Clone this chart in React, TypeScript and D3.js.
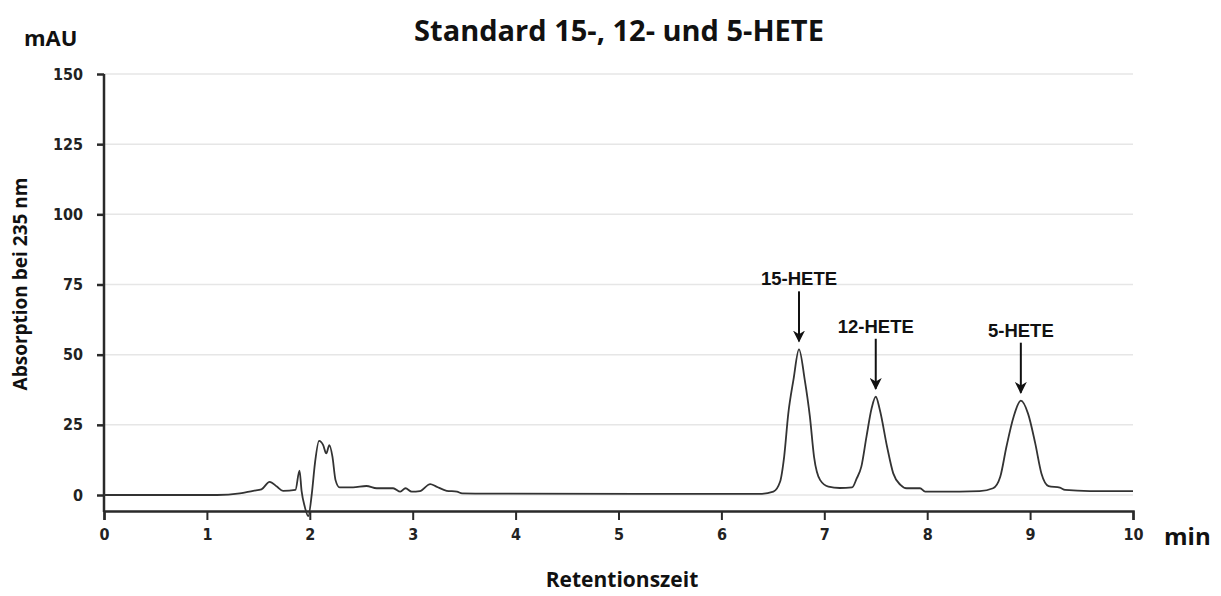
import React, { useEffect, useRef } from "react";
import * as d3 from "d3";

// retention time (min) and absorbance (mAU)
const times = [
  0, 1.1, 1.32, 1.45, 1.53, 1.61, 1.68, 1.74, 1.86, 1.9, 1.92, 1.95, 1.985,
  2.02, 2.05, 2.09, 2.13, 2.16, 2.19, 2.22, 2.25, 2.29, 2.42, 2.55, 2.65, 2.81,
  2.88, 2.93, 2.99, 3.07, 3.17, 3.23, 3.33, 3.43, 3.48, 3.75, 6.375, 6.505,
  6.57, 6.61, 6.65, 6.7, 6.754, 6.81, 6.86, 6.9, 6.96, 7.04, 7.15, 7.27, 7.315,
  7.36, 7.41, 7.46, 7.5, 7.54, 7.61, 7.67, 7.74, 7.8, 7.93, 7.98, 8.12, 8.51,
  8.64, 8.71, 8.77, 8.84, 8.91, 8.98, 9.05, 9.11, 9.18, 9.29, 9.34, 9.58, 10,
];
const absorbance = [
  0, 0, 0.6, 1.5, 2, 4.7, 3, 1.5, 1.8, 8.7, 1.5, -4, -7.5, 0.6, 11.3, 19.3,
  17.8, 14.8, 17.8, 13.7, 5.3, 2.7, 2.7, 3.2, 2.4, 2.4, 1.2, 2.4, 1.2, 1.4, 3.9,
  3, 1.5, 1.2, 0.6, 0.5, 0.4, 1.2, 4.7, 13.7, 29, 41, 51.9, 41, 27.9, 13.7, 5.3,
  3, 2.5, 2.7, 5.9, 10.1, 20.8, 30.9, 35, 30.3, 17.2, 7.7, 3.6, 2.4, 2.4, 1.2,
  1.2, 1.4, 2.4, 6.5, 17.2, 27.9, 33.6, 29, 18.4, 7.7, 3.2, 2.6, 1.8, 1.4, 1.4,
];

const peakLabels = ["15-HETE", "12-HETE", "5-HETE"];
const peakTimes = [6.754, 7.5, 8.91];
const peakValues = [51.9, 35, 33.6];

const yTicks = [0, 25, 50, 75, 100, 125, 150];
const xTicks = [0, 1, 2, 3, 4, 5, 6, 7, 8, 9, 10];

export default function App() {
  const ref = useRef<SVGSVGElement>(null);

  useEffect(() => {
    document.body.style.margin = "0";
    drawChart();
  }, []);

  function drawChart() {
    var width = 1221,
      height = 596;
    var margin = { top: 74, right: 88, bottom: 85, left: 104 };

    var svg = d3.select(ref.current);
    svg.selectAll("*").remove();

    var x = d3
      .scaleLinear()
      .domain([0, 10])
      .range([margin.left, width - margin.right]);
    var y = d3
      .scaleLinear()
      .domain([-5.7, 150])
      .range([height - margin.bottom, margin.top]);

    var font = "'Open Sans', sans-serif";
    var tickFont = "'DejaVu Sans Condensed', 'DejaVu Sans', sans-serif";

    // grid lines
    svg
      .append("g")
      .selectAll("line")
      .data(yTicks)
      .enter()
      .append("line")
      .attr("x1", x(0))
      .attr("x2", x(10))
      .attr("y1", (d) => y(d))
      .attr("y2", (d) => y(d))
      .style("stroke", "#e6e6e6")
      .style("stroke-width", 1.5);

    // y axis
    var yAxis = svg
      .append("g")
      .attr("transform", "translate(" + x(0) + ",0)")
      .call(d3.axisLeft(y).tickValues(yTicks).tickSize(7).tickPadding(14));
    yAxis.select(".domain").remove();
    yAxis
      .append("line")
      .attr("x1", 0)
      .attr("x2", 0)
      .attr("y1", y(150))
      .attr("y2", y(-5.7) + 1)
      .style("stroke", "#2a2a2a")
      .style("stroke-width", 2.5);
    yAxis.selectAll(".tick line").style("stroke", "#2a2a2a").style("stroke-width", 2.5);
    yAxis
      .selectAll(".tick text")
      .style("font-family", tickFont)
      .style("font-weight", "bold")
      .style("font-size", "16px")
      .style("fill", "#222");

    // x axis
    var xAxis = svg
      .append("g")
      .attr("transform", "translate(0," + y(-5.7) + ")")
      .call(d3.axisBottom(x).tickValues(xTicks).tickSize(9).tickPadding(9));
    xAxis.select(".domain").style("stroke", "#2a2a2a").style("stroke-width", 2.5);
    xAxis.selectAll(".tick line").style("stroke", "#2a2a2a").style("stroke-width", 2);
    xAxis
      .selectAll(".tick text")
      .style("font-family", tickFont)
      .style("font-weight", "bold")
      .style("font-size", "16px")
      .style("fill", "#222");

    // chromatogram trace
    var pts = times.map((t, i) => [t, absorbance[i]] as [number, number]);
    var line = d3
      .line<[number, number]>()
      .x((d) => x(d[0]))
      .y((d) => y(d[1]))
      .curve(d3.curveMonotoneX);
    svg
      .append("path")
      .datum(pts)
      .attr("d", line)
      .style("fill", "none")
      .style("stroke", "#333")
      .style("stroke-width", 1.8);

    // peak annotations
    var defs = svg.append("defs");
    defs
      .append("marker")
      .attr("id", "arrow")
      .attr("viewBox", "0 0 10 10")
      .attr("refX", 9)
      .attr("refY", 5)
      .attr("markerWidth", 6)
      .attr("markerHeight", 6)
      .attr("orient", "auto")
      .append("path")
      .attr("d", "M0,0 L10,5 L0,10 L3,5 Z")
      .style("fill", "#111");

    var ann = svg
      .selectAll(".ann")
      .data(peakLabels)
      .enter()
      .append("g")
      .attr("class", "ann");
    ann
      .append("line")
      .attr("x1", (d, i) => x(peakTimes[i]))
      .attr("x2", (d, i) => x(peakTimes[i]))
      .attr("y1", (d, i) => y(peakValues[i]) - 58)
      .attr("y2", (d, i) => y(peakValues[i]) - 8)
      .style("stroke", "#111")
      .style("stroke-width", 2)
      .attr("marker-end", "url(#arrow)");
    ann
      .append("text")
      .text((d) => d)
      .attr("x", (d, i) => x(peakTimes[i]))
      .attr("y", (d, i) => y(peakValues[i]) - 64)
      .attr("text-anchor", "middle")
      .style("font-family", "'Liberation Sans', Arial, sans-serif")
      .style("font-weight", "bold")
      .style("font-size", "18.5px")
      .style("fill", "#111");

    // titles
    svg
      .append("text")
      .text("Standard 15-, 12- und 5-HETE")
      .attr("x", 619)
      .attr("y", 41)
      .attr("text-anchor", "middle")
      .style("font-family", font)
      .style("font-weight", "bold")
      .style("font-size", "29px")
      .style("fill", "#111");
    svg
      .append("text")
      .text("mAU")
      .attr("x", 24)
      .attr("y", 46)
      .style("font-family", font)
      .style("font-weight", "bold")
      .style("font-size", "22px")
      .style("fill", "#111");
    svg
      .append("text")
      .text("min")
      .attr("x", 1164)
      .attr("y", 545)
      .style("font-family", font)
      .style("font-weight", "bold")
      .style("font-size", "24px")
      .style("fill", "#111");
    svg
      .append("text")
      .text("Retentionszeit")
      .attr("x", 622)
      .attr("y", 587)
      .attr("text-anchor", "middle")
      .style("font-family", font)
      .style("font-weight", "bold")
      .style("font-size", "21px")
      .style("fill", "#111");
    svg
      .append("text")
      .text("Absorption bei 235 nm")
      .attr("transform", "translate(27,284) rotate(-90)")
      .attr("text-anchor", "middle")
      .style("font-family", font)
      .style("font-weight", "bold")
      .style("font-size", "19px")
      .style("fill", "#111");
  }

  return <svg ref={ref} width={1221} height={596} style={{ display: "block", background: "#fff" }} />;
}
